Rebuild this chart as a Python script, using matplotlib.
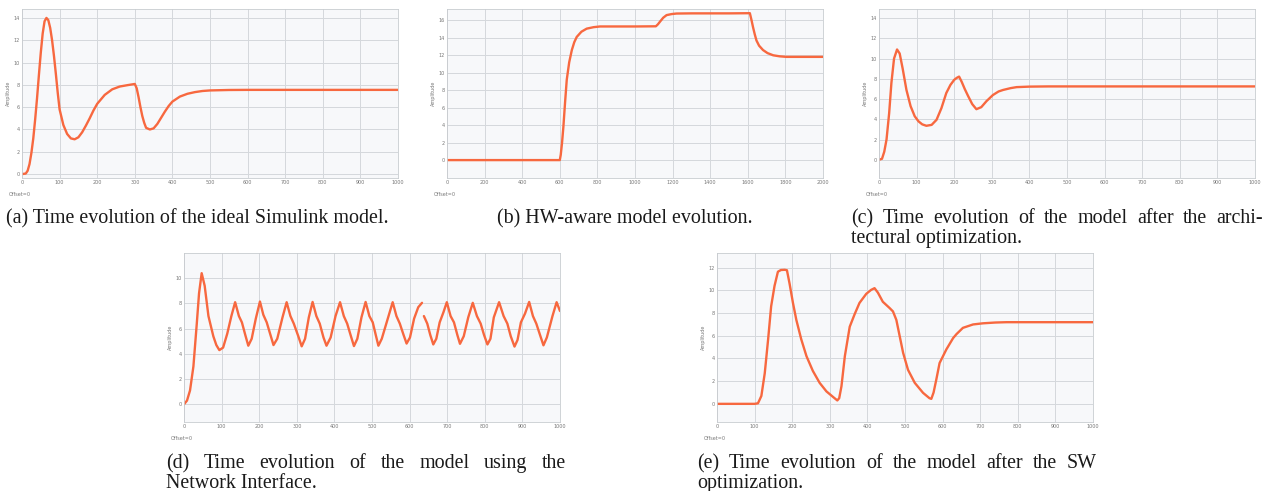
import numpy as np
import matplotlib
matplotlib.use("Agg")
import matplotlib.pyplot as plt

# ---- data ----
# (a) ideal Simulink model
a_t = [0, 10, 15, 20, 25, 30, 35, 40, 45, 50, 55, 60, 65, 70, 75, 80, 85, 90, 95, 100,
       110, 120, 130, 140, 150, 160, 170, 180, 190, 200, 220, 240, 260, 280, 300,
       305, 310, 315, 320, 325, 330, 340, 350, 360, 370, 380, 390, 400, 420, 440,
       460, 480, 500, 550, 600, 1000]
a_y = [0, 0.05, 0.3, 0.9, 1.9, 3.2, 4.9, 6.8, 8.9, 10.9, 12.6, 13.7, 14.0, 13.8, 13.1,
       12.0, 10.6, 9.0, 7.3, 5.8, 4.4, 3.6, 3.2, 3.12, 3.3, 3.75, 4.35, 5.0, 5.7,
       6.3, 7.1, 7.6, 7.85, 7.97, 8.08, 7.7, 6.9, 6.0, 5.2, 4.6, 4.15, 4.0, 4.1,
       4.5, 5.05, 5.6, 6.1, 6.5, 6.95, 7.2, 7.35, 7.45, 7.5, 7.54, 7.55, 7.55]

# (b) HW-aware model
b_t = [0, 600, 605, 612, 619, 628, 637, 650, 664, 677, 690, 715, 743, 780, 814, 900,
       1000, 1111, 1122, 1133, 1150, 1168, 1195, 1221, 1300, 1400, 1500, 1611,
       1620, 1628, 1637, 1646, 1660, 1681, 1705, 1735, 1770, 1805, 1900, 2000]
b_y = [0, 0, 0.6, 2.0, 3.8, 6.6, 9.2, 11.2, 12.6, 13.5, 14.1, 14.7, 15.05, 15.22,
       15.3, 15.3, 15.3, 15.32, 15.55, 15.85, 16.3, 16.6, 16.72, 16.78, 16.8, 16.8,
       16.8, 16.82, 16.0, 15.2, 14.4, 13.7, 13.1, 12.6, 12.25, 12.0, 11.88, 11.82,
       11.82, 11.82]

# (c) after architectural optimization
c_t = [0, 8, 14, 20, 27, 33, 40, 48, 55, 63, 73, 84, 95, 105, 115, 126, 140, 153,
       166, 179, 190, 200, 207, 213, 220, 228, 237, 248, 259, 272, 286, 303, 318,
       330, 350, 366, 400, 450, 500, 1000]
c_y = [0, 0.1, 0.8, 2.0, 4.6, 7.6, 10.0, 10.9, 10.5, 9.0, 6.9, 5.3, 4.3, 3.8, 3.5,
       3.36, 3.45, 3.95, 5.1, 6.6, 7.4, 7.9, 8.1, 8.22, 7.7, 7.0, 6.3, 5.5, 5.0, 5.2,
       5.8, 6.4, 6.75, 6.9, 7.08, 7.18, 7.23, 7.25, 7.25, 7.25]

# (d) with the Network Interface
d_t = [0, 8, 16, 25, 34, 40, 47, 55, 65, 78, 86, 94, 104, 115, 126, 136, 146, 154,
       163, 171, 180, 191, 202, 211, 220, 230, 238, 248, 262, 273, 283, 292, 304,
       313, 322, 332, 342, 352, 361, 371, 379, 390, 403, 415, 425, 434, 444, 452,
       461, 472, 483, 493, 502, 510, 517, 526, 543, 555, 565, 574, 584, 592, 601,
       612, 623, 633, 634.5, 638, 647, 655, 663, 671, 680, 690, 699, 709, 718, 727,
       734, 744, 756, 768, 779, 789, 798, 807, 815, 824, 838, 850, 860, 869, 879,
       887, 896, 907, 918, 928, 937, 948, 956, 965, 980, 991, 1000]
d_y = [0, 0.3, 1.1, 3.0, 6.4, 8.8, 10.4, 9.4, 7.0, 5.4, 4.7, 4.3, 4.5, 5.6, 7.0,
       8.1, 7.0, 6.5, 5.5, 4.65, 5.2, 6.8, 8.15, 7.1, 6.5, 5.5, 4.7, 5.2, 6.9, 8.1,
       7.0, 6.4, 5.4, 4.6, 5.2, 6.9, 8.12, 7.0, 6.4, 5.3, 4.65, 5.3, 7.0, 8.1, 7.0,
       6.4, 5.4, 4.62, 5.2, 6.9, 8.12, 7.0, 6.5, 5.5, 4.65, 5.2, 6.9, 8.1, 7.0, 6.4,
       5.5, 4.82, 5.3, 6.8, 7.7, 8.05, np.nan, 7.0, 6.4, 5.5, 4.75, 5.2, 6.5, 7.3,
       8.1, 7.0, 6.5, 5.5, 4.8, 5.4, 6.9, 8.05, 7.0, 6.4, 5.5, 4.75, 5.2, 6.9, 8.1,
       7.0, 6.4, 5.4, 4.58, 5.1, 6.5, 7.2, 8.12, 7.0, 6.4, 5.4, 4.68, 5.3, 7.0, 8.1,
       7.4]

# (e) after the SW optimization
e_t = [0, 100, 109, 118, 127, 136, 144, 153, 162, 170, 180, 186, 193, 202, 211, 224,
       238, 255, 273, 291, 309, 320, 325, 331, 340, 353, 366, 379, 397, 410, 419,
       428, 441, 459, 468, 477, 486, 495, 508, 526, 548, 565, 570, 576, 583, 592,
       610, 628, 637, 654, 681, 707, 740, 770, 1000]
e_y = [0, 0, 0.05, 0.7, 2.7, 5.7, 8.6, 10.4, 11.65, 11.8, 11.82, 11.78, 10.6, 8.9,
       7.4, 5.7, 4.2, 2.9, 1.85, 1.1, 0.6, 0.3, 0.5, 1.55, 4.2, 6.8, 7.9, 8.9, 9.7,
       10.05, 10.2, 9.8, 9.0, 8.45, 8.15, 7.4, 5.95, 4.5, 3.0, 1.85, 0.97, 0.5,
       0.44, 1.0, 2.1, 3.6, 4.8, 5.8, 6.15, 6.7, 7.0, 7.1, 7.17, 7.2, 7.2]

line_color = "#f7683f"
grid_color = "#d4d8dc"

fig = plt.figure(figsize=(12.68, 4.91), dpi=100)
W, H = 1268.0, 491.0


def add_panel(px_left, px_right, px_top, px_bottom):
    return fig.add_axes([px_left / W, 1 - px_bottom / H,
                         (px_right - px_left) / W, (px_bottom - px_top) / H])


panels = [
    (add_panel(22, 398, 9, 178), a_t, a_y, (0, 1000), np.arange(0, 1001, 100), (-0.35, 14.8), np.arange(0, 15, 2)),
    (add_panel(447, 823, 9, 178), b_t, b_y, (0, 2000), np.arange(0, 2001, 200), (-2.05, 17.3), np.arange(0, 17, 2)),
    (add_panel(879, 1255, 9, 178), c_t, c_y, (0, 1000), np.arange(0, 1001, 100), (-1.8, 14.9), np.arange(0, 15, 2)),
    (add_panel(184, 560, 253, 422), d_t, d_y, (0, 1000), np.arange(0, 1001, 100), (-1.4, 12.0), np.arange(0, 11, 2)),
    (add_panel(717, 1093, 253, 422), e_t, e_y, (0, 1000), np.arange(0, 1001, 100), (-1.6, 13.3), np.arange(0, 13, 2)),
]

for ax, t, y, xl, xt, yl, yt in panels:
    ax.set_facecolor("#f7f8fa")
    ax.plot(t, y, color=line_color, lw=1.7, solid_capstyle="round")
    ax.set_xlim(*xl)
    ax.set_ylim(*yl)
    ax.set_xticks(xt)
    ax.set_yticks(yt)
    ax.grid(True, color=grid_color, lw=0.7)
    ax.set_axisbelow(True)
    ax.tick_params(labelsize=3.5, colors="#777777", length=0, pad=1.5)
    for s in ax.spines.values():
        s.set_color("#c8ccd0")
        s.set_linewidth(0.6)
    ax.set_ylabel("Amplitude", fontsize=3.5, color="#777777", labelpad=2)
    ax.text(-0.035, -0.085, "Offset=0", transform=ax.transAxes,
            fontsize=3.5, color="#777777", ha="left", va="top")

# ---- captions (serif, justified where the paper justifies) ----
cap_fs = 14.4
serif = "Liberation Serif"
fig.canvas.draw()
renderer = fig.canvas.get_renderer()


def caption(x_px, y_px, s):
    fig.text(x_px / W, 1 - y_px / H, s, fontsize=cap_fs, family=serif,
             ha="left", va="baseline", color="#1a1a1a")


def justified(x0_px, x1_px, y_px, s):
    words = s.split()
    widths = []
    for w in words:
        t = fig.text(0, 0, w, fontsize=cap_fs, family=serif)
        widths.append(t.get_window_extent(renderer).width)
        t.remove()
    gap = (x1_px - x0_px - sum(widths)) / (len(words) - 1)
    x = x0_px
    for w, wd in zip(words, widths):
        caption(x, y_px, w)
        x += wd + gap


caption(6, 223, "(a) Time evolution of the ideal Simulink model.")
caption(497, 223, "(b) HW-aware model evolution.")
justified(851, 1263, 223, "(c) Time evolution of the model after the archi-")
caption(851, 243, "tectural optimization.")
justified(166, 566, 468, "(d) Time evolution of the model using the")
caption(166, 488, "Network Interface.")
justified(697, 1097, 468, "(e) Time evolution of the model after the SW")
caption(697, 488, "optimization.")

fig.savefig("out.png", dpi=100)
